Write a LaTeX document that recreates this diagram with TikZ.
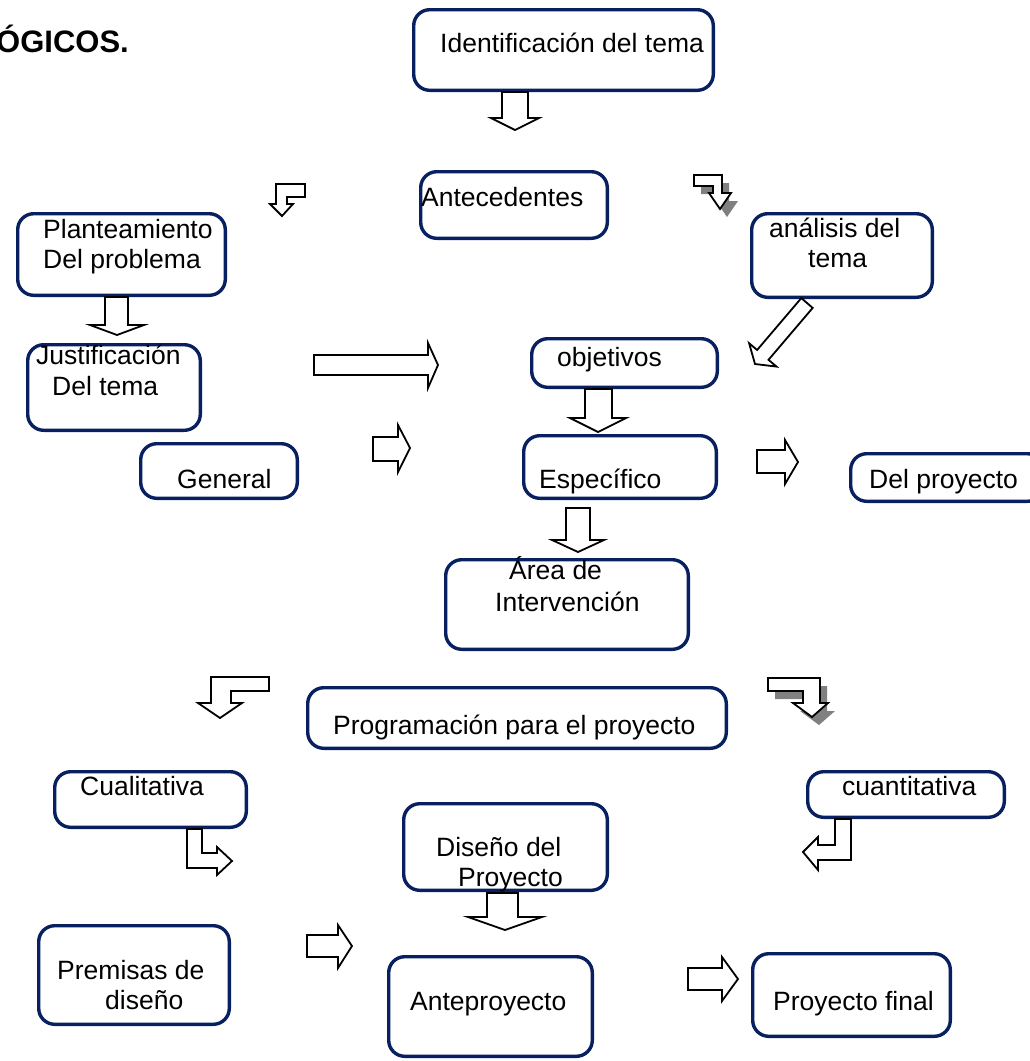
\documentclass[tikz,border=0pt]{standalone}
\usepackage{fontspec}
\setmainfont{Liberation Sans}
\definecolor{navy}{RGB}{8,32,96}
\definecolor{shade}{RGB}{128,128,128}
\tikzset{
  box/.style={draw=navy, line width=3.4pt, rounded corners=16pt, fill=white, inner sep=0pt},
  txt/.style={inner sep=0pt, anchor=base west, font=\fontsize{26.5}{30.5}\selectfont},
  barrow/.style={draw=black, line width=1.8pt, fill=white, line join=miter},
  bshadow/.style={fill=shade, draw=none}
}
\newcommand\mybox[5]{\node[box, minimum width={#4-#2-3.4}, minimum height={#5-#3-3.4}] (#1) at ({(#2+#4)/2},{(#3+#5)/2}) {};}
\begin{document}
\begin{tikzpicture}[x=1pt,y=-1pt]
\useasboundingbox (0,0) rectangle (1030,1061);
% title fragment
\node[inner sep=0pt, anchor=base west, font=\fontsize{31}{35}\selectfont\bfseries] (title) at (-4,52) {ÓGICOS.};
% boxes
\mybox{idt}{412}{8}{715}{92}
\mybox{ant}{419}{170}{609}{240}
\mybox{pla}{16}{212}{227}{297}
\mybox{ana}{750}{212}{934}{299}
\mybox{jus}{26}{343}{202}{432}
\mybox{obj}{530}{337}{719}{389}
\mybox{gen}{139}{442}{299}{500}
\mybox{esp}{522}{434}{718}{500}
\mybox{dpr}{849}{452}{1045}{503}
\mybox{are}{444}{558}{690}{651}
\mybox{prg}{306}{686}{728}{750}
\mybox{cua}{53}{770}{248}{829}
\mybox{cun}{806}{770}{1006}{819}
\mybox{dis}{402}{802}{609}{892}
\mybox{pre}{37}{924}{231}{1026}
\mybox{atp}{387}{955}{594}{1058}
\mybox{pfi}{751}{952}{952}{1038}
% texts
\node[txt] (t-idt) at (440,52) {Identificación del tema};
\node[txt] (t-ant) at (421,206) {Antecedentes};
\node[txt] (t-pla1) at (43,238) {Planteamiento};
\node[txt] (t-pla2) at (43,268) {Del problema};
\node[txt] (t-ana1) at (769,237) {análisis del};
\node[txt] (t-ana2) at (808,267) {tema};
\node[txt] (t-jus1) at (36,364) {Justificación};
\node[txt] (t-jus2) at (52,395) {Del tema};
\node[txt] (t-obj) at (557,366) {objetivos};
\node[txt] (t-gen) at (177,488) {General};
\node[txt] (t-esp) at (539,488) {Específico};
\node[txt] (t-dpr) at (869,488) {Del proyecto};
\node[txt] (t-are1) at (509,579) {Área de};
\node[txt] (t-are2) at (495,611) {Intervención};
\node[txt] (t-prg) at (333,734) {Programación para el proyecto};
\node[txt] (t-cua) at (80,795) {Cualitativa};
\node[txt] (t-cun) at (842,795) {cuantitativa};
\node[txt] (t-dis1) at (436,856) {Diseño del};
\node[txt] (t-dis2) at (458,886) {Proyecto};
\node[txt] (t-pre1) at (57,979) {Premisas de};
\node[txt] (t-pre2) at (105,1009) {diseño};
\node[txt] (t-atp) at (410,1010) {Anteproyecto};
\node[txt] (t-pfi) at (773,1010) {Proyecto final};
% block arrows
% A below Identificacion
\draw[barrow] (502,92)--(528,92)--(528,118)--(539,118)--(515,130)--(491,118)--(502,118)--cycle;
% B bent arrow left-top
\draw[barrow] (276,184)--(305,184)--(305,197)--(287,197)--(287,204)--(293,204)--(282,216)--(270,204)--(276,204)--cycle;
% C shadowed bent arrow right-top
\begin{scope}[shift={(7,8)}]
\fill[bshadow] (694,175)--(722,175)--(722,193)--(731,193)--(720,209)--(709,193)--(713,193)--(713,186)--(694,186)--cycle;
\end{scope}
\draw[barrow] (694,175)--(722,175)--(722,193)--(731,193)--(720,209)--(709,193)--(713,193)--(713,186)--(694,186)--cycle;
% D diagonal from analisis
\draw[barrow] (801.3,298.1)--(812.7,307.9)--(768.5,359.8)--(776.5,366.6)--(755,364)--(749.1,343.2)--(757.1,350.0)--cycle;
% E below Planteamiento
\draw[barrow] (105,297)--(128,297)--(128,325)--(144,325)--(117,335)--(90,325)--(105,325)--cycle;
% F long right arrow
\draw[barrow] (314,355)--(428,355)--(428,343)--(438,365)--(428,388)--(428,375)--(314,375)--cycle;
% G below objetivos
\draw[barrow] (585,389)--(612,389)--(612,418)--(626,418)--(598,432)--(570,418)--(585,418)--cycle;
% H General -> Especifico
\draw[barrow] (373,437)--(398,437)--(398,425)--(410,448)--(398,472)--(398,461)--(373,461)--cycle;
% I Especifico -> Del proyecto
\draw[barrow] (757,450)--(785,450)--(785,440)--(798,462)--(785,484)--(785,473)--(757,473)--cycle;
% J below Especifico
\draw[barrow] (566,508)--(590,508)--(590,540)--(604,540)--(578,552)--(552,540)--(566,540)--cycle;
% K bent arrow left-bottom
\draw[barrow] (211,677)--(269,677)--(269,691)--(231,691)--(231,703)--(242,703)--(220,718)--(198,703)--(211,703)--cycle;
% L shadowed bent arrow right-bottom
\begin{scope}[shift={(7,8)}]
\fill[bshadow] (768,678)--(820,678)--(820,703)--(828,703)--(812,717)--(793,703)--(803,703)--(803,691)--(768,691)--cycle;
\end{scope}
\draw[barrow] (768,678)--(820,678)--(820,703)--(828,703)--(812,717)--(793,703)--(803,703)--(803,691)--(768,691)--cycle;
% M below Cualitativa
\draw[barrow] (187,829)--(202,829)--(202,853)--(217,853)--(217,847)--(232,861)--(217,875)--(217,868)--(187,868)--cycle;
% N below cuantitativa
\draw[barrow] (835,819)--(851,819)--(851,860)--(818,860)--(818,870)--(803,852)--(818,837)--(818,845)--(835,845)--cycle;
% O Premisas -> Anteproyecto
\draw[barrow] (307,935)--(338,935)--(338,925)--(352,946)--(338,968)--(338,957)--(307,957)--cycle;
% P below Diseno
\draw[barrow] (487,893)--(518,893)--(518,917)--(542,917)--(505,930)--(468,917)--(487,917)--cycle;
% Q Anteproyecto -> Proyecto final
\draw[barrow] (688,968)--(722,968)--(722,957)--(738,979)--(722,1001)--(722,990)--(688,990)--cycle;
\end{tikzpicture}
\end{document}
